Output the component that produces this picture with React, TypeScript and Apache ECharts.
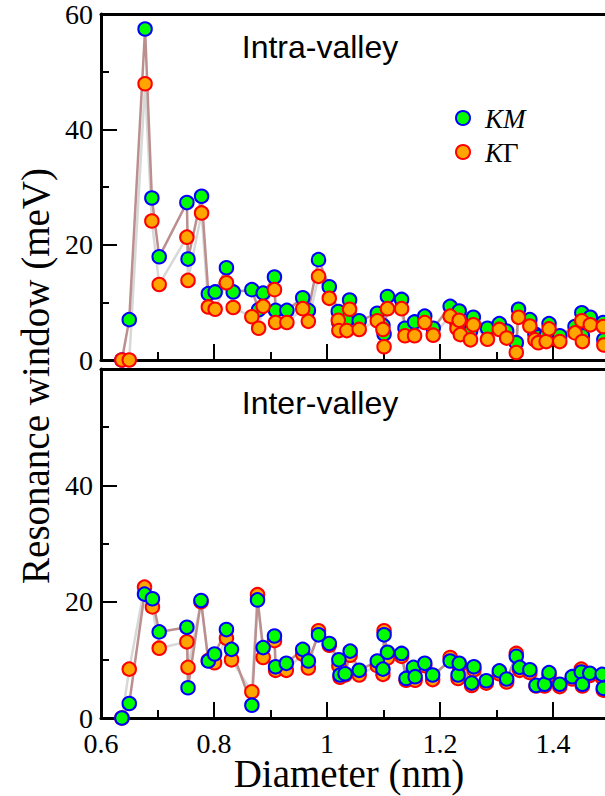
import React, { useEffect, useRef } from "react";
import * as echarts from "echarts";

// ---- Data (diameter in nm, resonance window in meV) ----
const intraDiameter = [
  0.637, 0.65, 0.678, 0.69, 0.703, 0.752, 0.754, 0.778, 0.79, 0.802, 0.822, 0.834,
  0.867, 0.879, 0.887, 0.907, 0.909, 0.929, 0.957, 0.967, 0.985, 1.004, 1.02, 1.021,
  1.035, 1.04, 1.057, 1.089, 1.099, 1.101, 1.107, 1.132, 1.138, 1.155, 1.173, 1.188,
  1.218, 1.23, 1.234, 1.236, 1.254, 1.259, 1.284, 1.305, 1.318, 1.335, 1.339, 1.359,
  1.368, 1.374, 1.388, 1.393, 1.412, 1.439, 1.451, 1.452, 1.466, 1.489, 1.49,
];
const intraKM = [
  0, 7.0, 57.4, 28.1, 17.9, 27.3, 17.5, 28.4, 11.5, 11.8, 16.0, 11.8,
  12.2, 8.7, 11.6, 14.4, 8.6, 8.6, 10.8, 8.6, 17.4, 12.7, 8.4, 6.5,
  6.9, 10.4, 6.8, 8.1, 6.0, 4.5, 11.0, 10.5, 5.5, 6.6, 7.6, 5.5,
  9.3, 6.5, 8.5, 5.5, 5.0, 7.4, 5.5, 6.3, 5.0, 3.0, 8.8, 7.0,
  4.5, 4.0, 4.2, 6.3, 4.2, 5.8, 8.2, 4.2, 7.4, 6.5, 3.5,
];
const intraKG = [
  0, 0, 47.9, 24.1, 13.1, 21.3, 13.8, 25.5, 9.2, 8.8, 13.4, 9.1,
  7.5, 5.5, 9.3, 12.2, 6.5, 6.5, 8.9, 6.7, 14.5, 10.7, 6.9, 5.1,
  5.1, 8.8, 5.3, 6.8, 5.3, 2.3, 8.9, 8.9, 4.2, 4.2, 6.5, 4.3,
  7.6, 5.5, 6.9, 4.4, 3.5, 6.1, 3.6, 5.3, 3.8, 1.3, 7.4, 5.9,
  3.5, 3.0, 3.2, 5.4, 3.2, 4.7, 6.8, 3.2, 6.1, 5.8, 2.6,
];

const interDiameter = [
  0.637, 0.65, 0.677, 0.691, 0.703, 0.752, 0.754, 0.777, 0.79, 0.801, 0.822, 0.831,
  0.867, 0.877, 0.887, 0.907, 0.909, 0.928, 0.957, 0.967, 0.985, 1.004, 1.021, 1.023,
  1.032, 1.041, 1.057, 1.089, 1.099, 1.101, 1.107, 1.132, 1.14, 1.153, 1.156, 1.173,
  1.187, 1.218, 1.232, 1.234, 1.256, 1.26, 1.282, 1.305, 1.318, 1.335, 1.341, 1.359,
  1.37, 1.385, 1.393, 1.412, 1.434, 1.45, 1.452, 1.465, 1.487, 1.489,
];
const interKM = [
  0, 2.5, 21.3, 20.5, 14.8, 15.6, 5.2, 20.2, 9.8, 11.0, 15.2, 11.8,
  2.2, 20.3, 12.1, 14.1, 8.8, 9.4, 11.8, 9.8, 14.3, 12.8, 10.0, 7.4,
  7.6, 11.5, 8.2, 9.8, 8.4, 14.3, 11.3, 11.1, 6.8, 8.7, 7.1, 9.4,
  7.4, 9.8, 7.4, 9.4, 6.0, 8.8, 6.4, 8.1, 6.7, 10.6, 8.7, 8.3,
  5.6, 5.8, 7.8, 5.8, 7.1, 7.9, 5.8, 7.7, 7.5, 5.1,
];
const interKG = [
  0, 8.4, 22.5, 19.1, 12.0, 13.1, 8.7, 20.0, 9.9, 9.5, 13.7, 10.0,
  4.5, 21.2, 10.4, 13.3, 8.2, 8.2, 11.0, 8.6, 15.0, 12.5, 9.0, 7.0,
  7.4, 10.8, 7.4, 9.0, 7.5, 15.0, 10.3, 10.6, 6.5, 8.3, 6.5, 9.0,
  6.6, 10.4, 6.8, 9.0, 5.6, 8.3, 6.0, 7.6, 6.2, 11.1, 8.2, 7.8,
  5.5, 5.5, 7.3, 5.4, 6.7, 8.4, 5.5, 7.3, 7.0, 4.8,
];

const yTicks = [0, 20, 40, 60];
const xTickLabels = ["0.6", "0.8", "1", "1.2", "1.4"];
const panelTitles = ["Intra-valley", "Inter-valley"];
const seriesNames = ["KM", "KΓ"];

const SERIF = '"Liberation Serif", "Times New Roman", Times, serif';
const SANS = '"Liberation Sans", Arial, Helvetica, sans-serif';

const pairs = (xs: number[], ys: number[]) => xs.map((x, i) => [x, ys[i]]);

export default function App() {
  const ref = useRef<HTMLDivElement>(null);
  useEffect(() => {
    if (!ref.current) return;
    const chart = echarts.init(ref.current, undefined, { renderer: "svg" });
    const axisLine = { show: true, onZero: false, lineStyle: { color: "#000", width: 3 } };
    const tick = { show: true, inside: true, length: 16, lineStyle: { color: "#000", width: 2 } };
    const minor = { show: true, splitNumber: 2, length: 8, lineStyle: { color: "#000", width: 2 } };
    const xBottom = (gi: number, labels: boolean) => ({
      gridIndex: gi,
      type: "value",
      position: "bottom",
      min: 0.6,
      max: 1.6,
      interval: 0.2,
      axisLine,
      axisTick: tick,
      minorTick: minor,
      splitLine: { show: false },
      minorSplitLine: { show: false },
      axisLabel: {
        show: labels,
        color: "#000",
        fontFamily: SERIF,
        fontSize: 28,
        lineHeight: 22,
        margin: 14,
        formatter: (v: number) => {
          const idx = Math.round((v - 0.6) / 0.2);
          return xTickLabels[idx] ?? "";
        },
      },
    });
    const xTop = (gi: number) => ({
      gridIndex: gi,
      type: "value",
      position: "top",
      min: 0.6,
      max: 1.6,
      axisLine,
      axisTick: { show: false },
      axisLabel: { show: false },
      splitLine: { show: false },
    });
    const yAx = (gi: number, hideTop: boolean) => ({
      gridIndex: gi,
      type: "value",
      min: 0,
      max: 60,
      interval: 20,
      axisLine,
      axisTick: tick,
      minorTick: minor,
      splitLine: { show: false },
      minorSplitLine: { show: false },
      axisLabel: {
        color: "#000",
        fontFamily: SERIF,
        fontSize: 28,
        lineHeight: 24,
        margin: 8,
        formatter: (v: number) => (hideTop && v === 60 ? "" : yTicks.includes(v) ? String(v) : ""),
      },
    });

    const lineS = (name: string, xi: number, yi: number, data: number[][], color: string) => ({
      name,
      type: "line",
      xAxisIndex: xi,
      yAxisIndex: yi,
      data,
      showSymbol: false,
      symbol: "none",
      clip: false,
      lineStyle: { color, width: 2.5 },
      z: 2,
    });
    const dotS = (name: string, xi: number, yi: number, data: number[][], fill: string, stroke: string, z: number) => ({
      name,
      type: "scatter",
      xAxisIndex: xi,
      yAxisIndex: yi,
      data,
      symbol: "circle",
      symbolSize: 13.5,
      clip: false,
      itemStyle: { color: fill, borderColor: stroke, borderWidth: 2, opacity: 1 },
      z,
    });

    const intraKMData = pairs(intraDiameter, intraKM);
    const intraKGData = pairs(intraDiameter, intraKG);
    const interKMData = pairs(interDiameter, interKM);
    const interKGData = pairs(interDiameter, interKG);

    chart.setOption({
      animation: false,
      backgroundColor: "#fff",
      grid: [
        { left: 101, top: 13, width: 565, height: 347 },
        { left: 101, top: 369, width: 565, height: 349 },
      ],
      xAxis: [xBottom(0, false), xTop(0), xBottom(1, true), xTop(1)],
      yAxis: [yAx(0, false), yAx(1, true)],
      series: [
        lineS(seriesNames[1], 0, 0, intraKGData, "#d8d8d8"),
        lineS(seriesNames[0], 0, 0, intraKMData, "#bc8f8f"),
        dotS(seriesNames[0], 0, 0, intraKMData, "#00ff00", "#0000ff", 3),
        dotS(seriesNames[1], 0, 0, intraKGData, "#ffa500", "#ff0000", 4),
        lineS(seriesNames[1], 2, 1, interKGData, "#d8d8d8"),
        lineS(seriesNames[0], 2, 1, interKMData, "#bc8f8f"),
        dotS(seriesNames[1], 2, 1, interKGData, "#ffa500", "#ff0000", 3),
        dotS(seriesNames[0], 2, 1, interKMData, "#00ff00", "#0000ff", 4),
      ],
      graphic: [
        {
          type: "text",
          x: 320,
          y: 47,
          style: { text: panelTitles[0], font: `32px ${SANS}`, fill: "#000", textAlign: "center", textVerticalAlign: "middle" },
        },
        {
          type: "text",
          x: 320,
          y: 403,
          style: { text: panelTitles[1], font: `32px ${SANS}`, fill: "#000", textAlign: "center", textVerticalAlign: "middle" },
        },
        {
          type: "circle",
          shape: { cx: 463, cy: 118, r: 7 },
          style: { fill: "#00ff00", stroke: "#0000ff", lineWidth: 2 },
        },
        {
          type: "text",
          x: 485,
          y: 119,
          style: { text: seriesNames[0], font: `italic 27px ${SERIF}`, fill: "#000", textAlign: "left", textVerticalAlign: "middle" },
        },
        {
          type: "circle",
          shape: { cx: 463, cy: 152, r: 7 },
          style: { fill: "#ffa500", stroke: "#ff0000", lineWidth: 2 },
        },
        {
          type: "text",
          x: 485,
          y: 153,
          style: {
            text: "{k|K}{g|Γ}",
            rich: {
              k: { font: `italic 27px ${SERIF}`, fill: "#000" },
              g: { font: `27px ${SERIF}`, fill: "#000" },
            },
            textAlign: "left",
            textVerticalAlign: "middle",
          },
        },
        {
          type: "text",
          x: 35,
          y: 376,
          rotation: Math.PI / 2,
          style: { text: "Resonance window (meV)", font: `39px ${SERIF}`, fill: "#000", textAlign: "center", textVerticalAlign: "middle" },
        },
        {
          type: "text",
          x: 349,
          y: 773,
          style: { text: "Diameter (nm)", font: `39px ${SERIF}`, fill: "#000", textAlign: "center", textVerticalAlign: "middle" },
        },
      ],
    });
    return () => chart.dispose();
  }, []);
  return (
    <div style={{ position: "absolute", left: 0, top: 0, width: 605, height: 796, overflow: "hidden", background: "#fff" }}>
      <div ref={ref} style={{ width: 700, height: 796 }} />
    </div>
  );
}
